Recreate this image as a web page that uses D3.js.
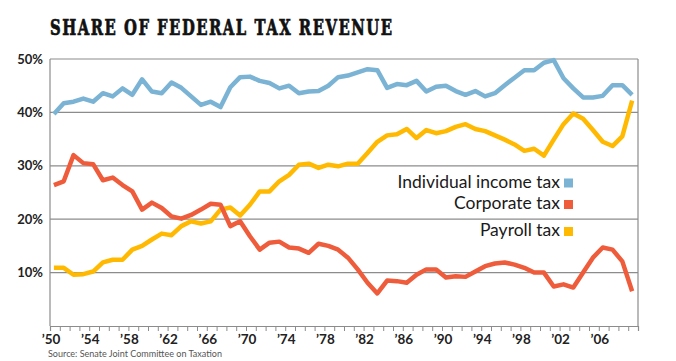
<!DOCTYPE html>
<html>
<head>
<meta charset="utf-8">
<script src="https://cdn.jsdelivr.net/npm/d3@7"></script>
<style>
    body { margin: 0; background: #fff; }
</style>
</head>
<body>
<div class="vis-taxshare"></div>
<script>
// Share of federal tax revenue, percent, 1950-2009
const years = d3.range(1950, 2010);
const individualTax = [
    39.7, 41.7, 42.0, 42.6, 42.0, 43.6, 43.0, 44.5, 43.3, 46.2,
    43.9, 43.6, 45.6, 44.6, 43.0, 41.4, 42.0, 41.0, 44.7, 46.6,
    46.7, 45.9, 45.5, 44.5, 45.0, 43.6, 43.9, 44.0, 45.0, 46.6,
    46.9, 47.5, 48.1, 47.9, 44.6, 45.3, 45.1, 45.9, 43.9, 44.8,
    45.0, 44.0, 43.3, 44.0, 43.0, 43.6, 45.1, 46.5, 47.9, 47.9,
    49.3, 49.8, 46.4, 44.5, 42.8, 42.8, 43.1, 45.1, 45.1, 43.3
];
const corporateTax = [
    26.4, 27.1, 32.0, 30.5, 30.3, 27.3, 27.8, 26.4, 25.2, 21.8,
    23.1, 22.1, 20.5, 20.1, 20.8, 21.8, 22.9, 22.7, 18.7, 19.6,
    16.8, 14.3, 15.6, 15.8, 14.7, 14.5, 13.7, 15.4, 15.0, 14.3,
    12.8, 10.6, 8.1, 6.1, 8.5, 8.4, 8.1, 9.6, 10.6, 10.6,
    9.1, 9.3, 9.2, 10.2, 11.2, 11.7, 11.9, 11.5, 10.9, 10.0,
    10.0, 7.4, 7.8, 7.2, 10.0, 12.8, 14.7, 14.3, 12.1, 6.5
];
const payrollTax = [
    10.9, 10.9, 9.6, 9.7, 10.2, 11.9, 12.4, 12.4, 14.3, 15.0,
    16.2, 17.3, 17.0, 18.7, 19.6, 19.2, 19.6, 21.8, 22.2, 20.7,
    22.7, 25.2, 25.2, 27.1, 28.3, 30.2, 30.4, 29.6, 30.2, 29.9,
    30.4, 30.4, 32.4, 34.5, 35.7, 35.9, 36.9, 35.2, 36.7, 36.1,
    36.5, 37.3, 37.8, 36.9, 36.5, 35.7, 34.9, 34.0, 32.8, 33.2,
    31.9, 34.9, 37.8, 39.8, 38.8, 36.7, 34.5, 33.7, 35.5, 42.2
];
const seriesNames = ['Individual income tax', 'Corporate tax', 'Payroll tax'];
const seriesColors = ['#7bb3d4', '#ee5c3b', '#ffb900'];
const yTicks = [10, 20, 30, 40, 50];
const xLabelYears = d3.range(1950, 2010, 4);

const width = 676, height = 361;
const margin = { top: 59, right: 38, bottom: 35, left: 50 };

const svg = d3.select('.vis-taxshare')
    .append('svg')
    .attr('width', width)
    .attr('height', height)
    .style('font-family', 'Lato, sans-serif');

// Title - slab serif, stretched tall and spaced to fill ~338px
const title = svg.append('text')
    .attr('x', 0)
    .attr('y', 0)
    .attr('font-family', 'DejaVu Serif, serif')
    .attr('font-weight', 'bold')
    .attr('font-size', '22px')
    .attr('letter-spacing', '1.5px')
    .attr('fill', '#111')
    .attr('stroke', '#111')
    .attr('stroke-width', 0.5)
    .text('SHARE OF FEDERAL TAX REVENUE');
const natural = title.node().getComputedTextLength();
const fs = 22 * 330 / natural;
title.attr('font-size', fs + 'px')
    .attr('transform', 'translate(50,35) scale(1,' + (22 / fs) + ')');

const x = d3.scaleLinear()
    .domain([1950, 2010])
    .range([margin.left, width - margin.right]);

const y = d3.scaleLinear()
    .domain([0, 50])
    .range([height - margin.bottom, margin.top]);

// Gridlines
svg.append('g')
    .selectAll('line')
    .data(yTicks)
    .enter()
    .append('line')
    .attr('x1', x(1950))
    .attr('x2', x(2010))
    .attr('y1', function (d) { return y(d); })
    .attr('y2', function (d) { return y(d); })
    .attr('stroke', '#8c8c8c')
    .attr('stroke-width', 1.2);

// Frame: left and right edges
svg.append('line')
    .attr('x1', x(1950)).attr('x2', x(1950))
    .attr('y1', y(50)).attr('y2', y(0))
    .attr('stroke', '#8c8c8c').attr('stroke-width', 1.2);
svg.append('line')
    .attr('x1', x(2010)).attr('x2', x(2010))
    .attr('y1', y(50)).attr('y2', y(0))
    .attr('stroke', '#8c8c8c').attr('stroke-width', 1.2);

// Y labels
svg.append('g')
    .selectAll('text')
    .data(yTicks)
    .enter()
    .append('text')
    .attr('x', 43)
    .attr('y', function (d) { return y(d) + 4.5; })
    .attr('text-anchor', 'end')
    .attr('font-weight', 'bold')
    .attr('font-size', '13px')
    .attr('fill', '#222')
    .text(function (d) { return d + '%'; });

// X axis with a tick for every year
const xAxis = svg.append('g')
    .attr('transform', 'translate(0,' + y(0) + ')')
    .call(d3.axisBottom(x)
        .tickValues(d3.range(1950, 2011))
        .tickSize(5)
        .tickFormat(''));
xAxis.select('.domain').attr('stroke', '#8c8c8c').attr('stroke-width', 1.2);
xAxis.selectAll('.tick line').attr('stroke', '#8c8c8c');

svg.append('g')
    .selectAll('text')
    .data(xLabelYears)
    .enter()
    .append('text')
    .attr('x', function (d) { return x(d) + 1; })
    .attr('y', 344)
    .attr('text-anchor', 'middle')
    .attr('font-weight', 'bold')
    .attr('font-size', '13.5px')
    .attr('fill', '#222')
    .text(function (d) { return '\u2019' + String(d).slice(2); });

// Lines
const line = d3.line()
    .x(function (d, i) { return x(years[i] + 0.4); })
    .y(function (d) { return y(d); });

const allSeries = [individualTax, corporateTax, payrollTax];
[2, 1, 0].forEach(function (k) {
    svg.append('path')
        .datum(allSeries[k])
        .attr('d', line)
        .attr('fill', 'none')
        .attr('stroke', seriesColors[k])
        .attr('stroke-width', 4.5)
        .attr('stroke-linejoin', 'round');
});

// Legend
const legendY = [187.5, 209, 236];
const legend = svg.append('g')
    .selectAll('g')
    .data(seriesNames)
    .enter()
    .append('g');
legend.append('text')
    .attr('x', 560)
    .attr('y', function (d, i) { return legendY[i]; })
    .attr('text-anchor', 'end')
    .attr('font-size', '17.5px')
    .attr('fill', '#1a1a1a')
    .text(function (d) { return d; });
legend.append('rect')
    .attr('x', 564)
    .attr('y', function (d, i) { return legendY[i] - 9; })
    .attr('width', 9)
    .attr('height', 9)
    .attr('fill', function (d, i) { return seriesColors[i]; });

// Source
svg.append('text')
    .attr('x', 48)
    .attr('y', 357)
    .attr('font-size', '9.5px')
    .attr('textLength', 174)
    .attr('lengthAdjust', 'spacingAndGlyphs')
    .attr('fill', '#555')
    .text('Source: Senate Joint Committee on Taxation');
</script>
</body>
</html>
